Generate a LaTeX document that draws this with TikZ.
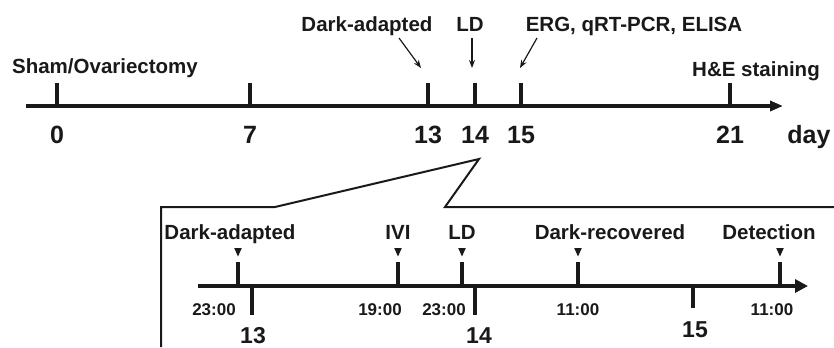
\documentclass[tikz,border=0pt]{standalone}
\usepackage{fontspec}
\setmainfont{Liberation Sans}
\usetikzlibrary{arrows.meta}
\begin{document}
\begin{tikzpicture}[x=1bp,y=-1bp,
  lbl/.style={font=\fontsize{20.5bp}{24bp}\selectfont\bfseries, anchor=base, inner sep=0, text=black!90},
  num/.style={font=\fontsize{25bp}{29bp}\selectfont\bfseries, anchor=base, inner sep=0, text=black!90},
  tm/.style={font=\fontsize{17bp}{20bp}\selectfont\bfseries, anchor=base, inner sep=0, text=black!90},
  inum/.style={font=\fontsize{23bp}{27bp}\selectfont\bfseries, anchor=base, inner sep=0, text=black!90},
  axisline/.style={line width=3.8bp, draw=black!90},
  tk/.style={line width=3.4bp, draw=black!90},
  ptr/.style={line width=1.2bp, draw=black!90, -{Stealth[length=8bp,width=6bp]}},
  callout/.style={line width=2bp, draw=black!90},
]
\useasboundingbox (0,0) rectangle (834,347);

% ---------- top timeline ----------
\coordinate (ts) at (26,106);
\coordinate (te) at (783,106);
\draw[axisline, -{Triangle[length=13bp,width=10bp]}] (ts) -- (te);
\foreach \x/\n in {57/0,250/7,428/13,475/14,521/15,730/21}{
  \coordinate (t\n) at (\x,83);
  \draw[tk] (t\n) -- (\x,106);
  \node[num] (n\n) at (\x,143) {\n};
}
\node[num] (day) at (809,143) {day};

\node[lbl] (sham) at (105,73) {Sham/Ovariectomy};
\node[lbl] (he) at (756,76) {H\&E staining};
\node[lbl] (da) at (367,31) {Dark-adapted};
\node[lbl] (ld) at (470,31) {LD};
\node[lbl] (erg) at (634,31) {ERG, qRT-PCR, ELISA};

\coordinate (a1s) at (399,38); \coordinate (a1e) at (421,68);
\coordinate (a2s) at (472,38); \coordinate (a2e) at (472,68);
\coordinate (a3s) at (537,38); \coordinate (a3e) at (520,68);
\draw[ptr] (a1s) -- (a1e);
\draw[ptr] (a2s) -- (a2e);
\draw[ptr] (a3s) -- (a3e);

% ---------- callout ----------
\coordinate (c1) at (161,347);
\coordinate (c2) at (161,207);
\coordinate (c3) at (275,207);
\coordinate (c4) at (479,159);
\coordinate (c5) at (445,207);
\coordinate (c6) at (834,207);
\draw[callout, line join=miter] (c1) -- (c2) -- (c3) -- (c4) -- (c5) -- (c6);

% ---------- inner timeline ----------
\coordinate (is) at (198,286);
\coordinate (ie) at (808,286);
\draw[axisline, -{Triangle[length=13bp,width=13bp]}] (is) -- (ie);

% event markers (tick above, triangle)
\foreach \x in {238,398,462,578,780}{
  \draw[tk] (\x,262) -- (\x,286);
  \fill[black!90] (\x-3.8,248) -- (\x+3.8,248) -- (\x,256.5) -- cycle;
}
\node[lbl] (l1) at (230,239) {Dark-adapted};
\node[lbl] (l2) at (398,239) {IVI};
\node[lbl] (l3) at (462,239) {LD};
\node[lbl] (l4) at (610,239) {Dark-recovered};
\node[lbl] (l5) at (769,239) {Detection};

% times
\node[tm] (h1) at (214,315) {23:00};
\node[tm] (h2) at (380,315) {19:00};
\node[tm] (h3) at (444,315) {23:00};
\node[tm] (h4) at (578,315) {11:00};
\node[tm] (h5) at (772,315) {11:00};

% day ticks below
\draw[tk] (252,286) -- (252,315);
\draw[tk] (475,286) -- (475,315);
\draw[tk] (693,286) -- (693,308);
\node[inum] (d13) at (253,343) {13};
\node[inum] (d14) at (479,343) {14};
\node[inum] (d15) at (695,337) {15};
\end{tikzpicture}
\end{document}
